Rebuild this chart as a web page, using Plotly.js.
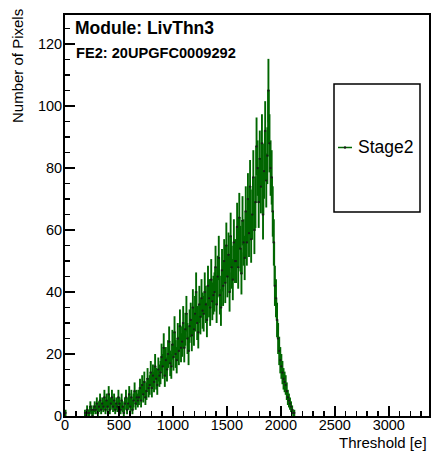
<!DOCTYPE html>
<html>
<head>
<meta charset="utf-8">
<script src="https://cdn.plot.ly/plotly-3.0.1.min.js"></script>
<style>
  html, body { margin: 0; padding: 0; background: #fff; }
  #chart { width: 432px; height: 456px; }
</style>
</head>
<body>
<div id="chart"></div>
<script>
// ---- data (bin width 10 e) ----
const seriesName = "Stage2";
const moduleLabel = "Module: LivThn3";
const feLabel = "FE2: 20UPGFC0009292";
const xTitle = "Threshold [e]";
const yTitle = "Number of Pixels";
const binWidth = 10;

// isolated low bin at the very start of the range
const firstBinCenter = [5];
const firstBinCount = [1];

// main block: bins centred at 185, 195, ... (one entry per bin)
const mainStart = 185;
const mainCounts = [
  1,0,2,1,1,3,2,0,2,3,            // 180-280
  2,4,1,3,5,2,4,3,6,2,            // 280-380
  5,3,7,2,4,6,3,5,2,4,            // 380-480
  3,6,4,2,5,3,1,4,6,2,            // 480-580
  4,7,3,6,2,5,8,4,6,5,            // 580-680
  6,9,5,10,7,11,6,8,12,9,         // 680-780
  10,14,9,13,11,16,12,10,15,13,   // 780-880
  14,19,16,22,13,18,15,20,24,17,  // 880-980
  16,23,19,27,20,18,25,21,29,22,  // 980-1080
  24,30,22,28,33,25,21,29,31,26,  // 1080-1180
  35,28,33,40,30,27,36,32,38,34,  // 1180-1280
  33,40,36,31,42,38,35,44,37,39,  // 1280-1380
  40,48,36,45,51,39,35,47,42,50,  // 1380-1480
  43,55,45,52,40,58,48,44,56,50,  // 1480-1580
  50,61,48,64,54,46,63,56,51,66,  // 1580-1680
  56,70,59,74,57,65,77,60,69,87,  // 1680-1780
  80,69,83,74,88,65,79,92,76,84,  // 1780-1880
  105,88,80,77,66,56,42,38,31,25, // 1880-1980
  21,18,16,14,12,11,10,8,6,5,     // 1980-2080
  4,3,2,1,1                       // 2080-2130
];

// axis ranges and ticks
const xRange = [0, 3373];
const yRange = [0, 129.4];
const xTickStep = 500, xMinorStep = 100;
const yTickStep = 20, yMinorStep = 5;

// ---- build arrays ----
const xs = [], ys = [], errs = [];
firstBinCenter.forEach((c, i) => { xs.push(c); ys.push(firstBinCount[i]); errs.push(Math.sqrt(firstBinCount[i])); });
xs.push(null); ys.push(null); errs.push(null);
mainCounts.forEach((v, i) => { xs.push(mainStart + i * binWidth); ys.push(v); errs.push(Math.sqrt(v)); });

const green = "#006600";
const font = "Liberation Sans, Arial, Helvetica, sans-serif";

const W = 432, H = 456;
const M = { l: 65, r: 3, t: 15, b: 40 };
const pw = W - M.l - M.r, ph = H - M.t - M.b;
const px = p => (p - M.l) / pw;           // pixel x -> paper
const py = p => (H - M.b - p) / ph;       // pixel y -> paper

const trace = {
  type: "scatter",
  mode: "lines+markers",
  name: seriesName,
  x: xs, y: ys,
  connectgaps: false,
  line: { color: green, width: 1.5, shape: "hvh" },
  marker: { color: "#1a1a1a", size: 2.2 },
  error_y: { type: "data", array: errs, visible: true, color: green, thickness: 1.9, width: 0 },
  showlegend: false,
  hoverinfo: "x+y"
};

const layout = {
  width: W, height: H,
  margin: M,
  paper_bgcolor: "#fff", plot_bgcolor: "#fff",
  font: { family: font, size: 14.5, color: "#000" },
  showlegend: false,
  xaxis: {
    range: xRange, dtick: xTickStep, tick0: 0,
    ticks: "inside", ticklen: 10, tickwidth: 1.5, tickcolor: "#000",
    minor: { ticks: "inside", ticklen: 5, dtick: xMinorStep, tickwidth: 1.5, tickcolor: "#000", showgrid: false },
    showline: true, linewidth: 2, linecolor: "#000", mirror: true,
    showgrid: false, zeroline: false,
    ticklabelstandoff: -5,
    tickfont: { family: font, size: 14.5, color: "#000" },
    title: { text: "" }
  },
  yaxis: {
    range: yRange, dtick: yTickStep, tick0: 0,
    ticks: "inside", ticklen: 10, tickwidth: 1.5, tickcolor: "#000",
    minor: { ticks: "inside", ticklen: 5, dtick: yMinorStep, tickwidth: 1.5, tickcolor: "#000", showgrid: false },
    showline: true, linewidth: 2, linecolor: "#000", mirror: true,
    showgrid: false, zeroline: false,
    ticklabelstandoff: -2,
    tickfont: { family: font, size: 14.5, color: "#000" },
    title: { text: "" }
  },
  shapes: [
    { type: "rect", xref: "paper", yref: "paper",
      x0: px(334), x1: px(420), y0: py(212), y1: py(84),
      line: { color: "#000", width: 1.5 }, fillcolor: "#fff" },
    { type: "line", xref: "paper", yref: "paper",
      x0: px(338), x1: px(352), y0: py(147.5), y1: py(147.5),
      line: { color: green, width: 1.5 } },
    { type: "circle", xref: "paper", yref: "paper",
      x0: px(344), x1: px(346), y0: py(148.5), y1: py(146.5),
      line: { color: "#1a1a1a", width: 0.5 }, fillcolor: "#1a1a1a" }
  ],
  annotations: [
    { xref: "paper", yref: "paper", x: px(356), y: py(147), xanchor: "left", yanchor: "middle",
      text: seriesName, showarrow: false, font: { family: font, size: 17.5, color: "#000" } },
    { xref: "paper", yref: "paper", x: px(73), y: py(28.5), xanchor: "left", yanchor: "middle",
      text: "<b>" + moduleLabel + "</b>", showarrow: false, font: { family: font, size: 17.5, color: "#000" } },
    { xref: "paper", yref: "paper", x: px(74), y: py(53.3), xanchor: "left", yanchor: "middle",
      text: "<b>" + feLabel + "</b>", showarrow: false, font: { family: font, size: 14.6, color: "#000" } },
    { xref: "paper", yref: "paper", x: px(429), y: py(443), xanchor: "right", yanchor: "middle",
      text: xTitle, showarrow: false, font: { family: font, size: 15, color: "#000" } },
    { xref: "paper", yref: "paper", x: px(18), y: py(66), xanchor: "center", yanchor: "middle",
      textangle: -90, text: yTitle, showarrow: false, font: { family: font, size: 15, color: "#000" } }
  ]
};

Plotly.newPlot("chart", [trace], layout, { displayModeBar: false, staticPlot: true });
</script>
</body>
</html>
